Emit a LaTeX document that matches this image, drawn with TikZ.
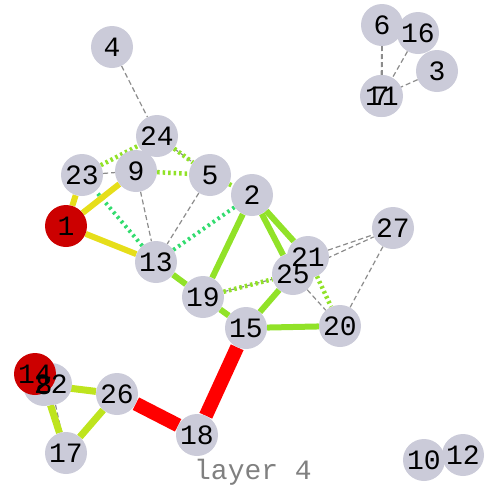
\documentclass[tikz,border=0pt]{standalone}
\usepackage{fontspec}
\setmonofont{Liberation Mono}
\usetikzlibrary{backgrounds}
\definecolor{nodegray}{RGB}{203,203,217}
\definecolor{deepred}{RGB}{204,0,0}
\definecolor{grassgreen}{RGB}{145,226,40}
\definecolor{lemon}{RGB}{230,222,26}
\definecolor{lime}{RGB}{190,228,30}
\definecolor{mint}{RGB}{50,220,110}
\tikzset{
    vertex/.style={
    circle,fill=nodegray,minimum size=42pt,inner sep=0pt
    },
    hot/.style={
    vertex,fill=deepred
    },
    tag/.style={
    font=\ttfamily\fontsize{28}{28}\selectfont,inner sep=0pt
    },
  weak/.style={draw=gray!90, line width=1.2pt, dash pattern=on 5pt off 3pt},
  greendash/.style={draw=grassgreen, line width=4.5pt, dash pattern=on 2.5pt off 3pt},
  mintdot/.style={draw=mint, line width=4pt, dash pattern=on 2.5pt off 3.5pt},
  strong/.style={draw=grassgreen, line width=6pt},
  yel/.style={draw=lemon, line width=6pt},
  limeline/.style={draw=lime, line width=7pt},
  hotline/.style={draw=red, line width=14pt}
}

\begin{document}
\begin{tikzpicture}[x=1pt,y=-1pt]
    \useasboundingbox (0,0) rectangle (491,488);

    % circles first, labels on top
    \foreach \id/\px/\py in {2/252/195, 3/437/71, 4/112/47, 5/210/175,
        6/382/25, 7/381/96, 8/44/385, 9/136/171, 10/424/460, 11/382/96,
        12/463/455, 13/156/262, 15/246/328, 16/418/33, 17/66/453,
        18/197/435, 19/203/297, 20/340/326, 21/308/257, 22/51/384,
        23/82/175, 24/157/136, 25/293/274, 26/117/394, 27/393/228}
      \node[vertex] (n\id) at (\px,\py) {};
    \node[hot] (n1) at (66,226) {};
    \node[hot] (n14) at (35,374) {};

    \foreach \id in {1,...,27}
      \node[tag] (t\id) at (n\id) {\id};

    \node[tag,text=gray] (layer) at (253,472) {layer 4};

    \begin{scope}[on background layer]
      \path[weak] (n4) -- (n24);
      \path[weak] (n23) -- (n9);
      \path[weak] (n24) -- (n5);
      \path[weak] (n9) -- (n13);
      \path[weak] (n5) -- (n13);
      \path[weak] (n19) -- (n25);
      \path[weak] (n21) -- (n27);
      \path[weak] (n25) -- (n27);
      \path[weak] (n27) -- (n20);
      \path[weak] (n25) -- (n20);
      \path[weak] (n6) -- (n7);
      \path[weak] (n6) -- (n11);
      \path[weak] (n16) -- (n11);
      \path[weak] (n3) -- (n7);
      \path[weak] (n22) -- (n17);

      \path[greendash] (n23) -- (n24);
      \path[greendash] (n24) -- (n5);
      \path[greendash] (n9) -- (n5);
      \path[greendash] (n5) -- (n2);
      \path[greendash] (n19) -- (n25);
      \path[greendash] (n21) -- (n20);

      \path[mintdot] (n13) -- (n23);
      \path[mintdot] (n13) -- (n2);

      \path[strong] (n13) -- (n19);
      \path[strong] (n2) -- (n19);
      \path[strong] (n2) -- (n21);
      \path[strong] (n2) -- (n25);
      \path[strong] (n19) -- (n15);
      \path[strong] (n15) -- (n25);
      \path[strong] (n15) -- (n20);

      \path[yel] (n1) -- (n23);
      \path[yel] (n1) -- (n9);
      \path[yel] (n1) -- (n13);

      \path[limeline] (n26) -- (n8);
      \path[limeline] (n26) -- (n17);
      \path[limeline] (n8) -- (n17);

      \path[hotline] (n15) -- (n18);
      \path[hotline] (n18) -- (n26);
    \end{scope}

\end{tikzpicture}
\end{document}
